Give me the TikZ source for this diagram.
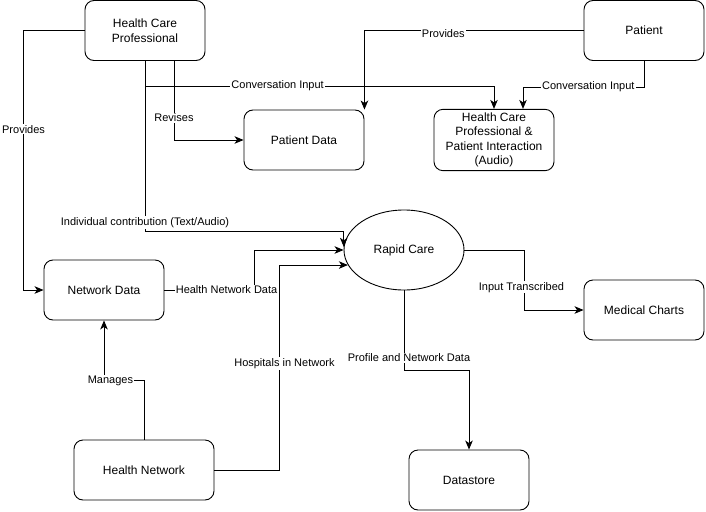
\documentclass[tikz,border=0pt]{standalone}
\usepackage{fontspec}
\setmainfont{Liberation Sans}
\usetikzlibrary{arrows.meta,positioning,shapes.geometric}

\begin{document}
\begin{tikzpicture}[x=1pt, y=-1pt,
    box/.style={draw, line width=0.9pt, rounded corners=9pt, minimum width=120pt, minimum height=60pt, align=center, font=\fontsize{12}{14.5}\selectfont},
    proc/.style={ellipse, draw, line width=0.9pt, minimum width=120pt, minimum height=80pt, font=\fontsize{12}{14.5}\selectfont},
    flow/.style={draw, line width=0.9pt, -{Stealth[length=9pt,width=7.5pt,inset=2.5pt]}},
    lbl/.style={fill=white, inner sep=1pt, font=\fontsize{11}{13}\selectfont}]
        \useasboundingbox (0,0) rectangle (706,511);
        %nodes
        \node[box] (hcp) at (145,30.5) {Health Care\\Professional};
        \node[box] (pat) at (644,30.5) {Patient};
        \node[box] (pd) at (304,140) {Patient Data};
        \node[box] (hpi) at (494,140) {Health Care\\Professional \&\\Patient Interaction\\(Audio)};
        \node[box] (nd) at (104,290) {Network Data};
        \node[proc] (rc) at (404,250) {Rapid Care};
        \node[box] (mc) at (644,310) {Medical Charts};
        \node[box, minimum width=140pt] (hn) at (144,470) {Health Network};
        \node[box] (ds) at (469,480) {Datastore};
        %edges
        \path[flow] (hcp.west) -- ++(-61,0) |- node[lbl, pos=.19]{Provides} (nd.west);
        \path[flow] (hcp.south) -- ++(0,25) -| node[lbl, pos=.19]{Conversation Input} (hpi.north);
        \path[flow] ([xshift=29pt]hcp.south) |- node[lbl, pos=.36]{Revises} (pd.west);
        \path[flow] (hcp.south) -- node[lbl, pos=.95]{Individual contribution (Text/Audio)} ++(0,170) -| (rc.177);
        \path[flow] (pat.west) -| node[lbl, pos=.32, yshift=-3pt]{Provides} (pd.north east);
        \path[flow] (pat.south) -- ++(0,26) -| node[lbl, pos=.23]{Conversation Input} ([xshift=29pt]hpi.north);
        \path[flow] (nd.east) -- node[lbl, pos=.69]{Health Network Data} ++(90,0) |- (rc.west);
        \path[flow] (hn.north) -- ++(0,-59) -| node[lbl, pos=.42]{Manages} (nd.south);
        \path[flow] (hn.east) -- ++(65,0) |- node[lbl, pos=.26, xshift=5pt]{Hospitals in Network} (rc.195);
        \path[flow] (rc.east) -- ++(60,0) |- node[lbl, pos=.31, xshift=-3pt]{Input Transcribed} (mc.west);
        \path[flow] (rc.south) -- node[lbl, pos=.84, xshift=5pt]{Profile and Network Data} ++(0,80) -| (ds.north);
\end{tikzpicture}
\end{document}
